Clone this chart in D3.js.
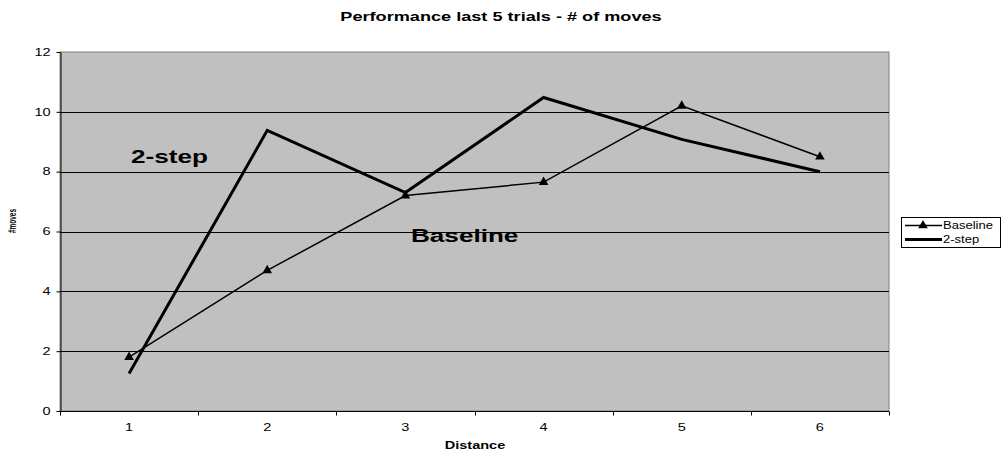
<!DOCTYPE html>
<html>
<head>
<meta charset="utf-8">
<script src="https://cdn.jsdelivr.net/npm/d3@7"></script>
<style>
  html, body { margin: 0; padding: 0; background: #fff; }
  svg { display: block; font-family: "Liberation Sans", Arial, sans-serif; }
</style>
</head>
<body>
<svg id="chart" width="1005" height="454"></svg>
<script>
// Distance categories and the mean number of moves per series
const distances = [1, 2, 3, 4, 5, 6];
const baseline = [1.8, 4.7, 7.2, 7.65, 10.2, 8.5];
const twoStep = [1.25, 9.38, 7.3, 10.48, 9.08, 8.0];
const yTicks = [0, 2, 4, 6, 8, 10, 12];
const seriesNames = ["Baseline", "2-step"];

// Text in this chart is drawn wide: glyphs are stretched horizontally.
const STRETCH = 1.45;
function widen(sel, factor) {
  sel.each(function () {
    const w = this.getComputedTextLength();
    d3.select(this).attr("textLength", w * (factor || STRETCH)).attr("lengthAdjust", "spacingAndGlyphs");
  });
  return sel;
}

const svg = d3.select("#chart");
const plot = { left: 60, right: 889, top: 52, bottom: 411 };

const x = d3.scaleBand().domain(distances).range([plot.left, plot.right]);
const y = d3.scaleLinear().domain([0, 12]).range([plot.bottom, plot.top]);
const cx = d => x(d) + x.bandwidth() / 2;

// Plot area
svg.append("rect")
  .attr("x", plot.left).attr("y", plot.top)
  .attr("width", plot.right - plot.left).attr("height", plot.bottom - plot.top)
  .attr("fill", "#c0c0c0").attr("stroke", "#808080").attr("stroke-width", 1);

// Horizontal gridlines
svg.append("g").selectAll("line").data(yTicks.filter(t => t > 0 && t < 12)).join("line")
  .attr("x1", plot.left).attr("x2", plot.right)
  .attr("y1", d => Math.round(y(d)) + 0.5).attr("y2", d => Math.round(y(d)) + 0.5)
  .attr("stroke", "#000").attr("stroke-width", 1);

// Y axis
const yAxis = svg.append("g")
  .attr("transform", `translate(${plot.left + 0.5},0)`)
  .call(d3.axisLeft(y).tickValues(yTicks).tickSize(4).tickPadding(6).tickSizeOuter(0));
yAxis.select(".domain").attr("stroke", "#000");
widen(yAxis.selectAll("text").attr("font-size", 10).attr("font-family", "Liberation Sans, Arial, sans-serif").attr("fill", "#000"));

// X axis with ticks between categories
const xAxisG = svg.append("g").attr("transform", `translate(0,${plot.bottom + 0.5})`);
xAxisG.append("line").attr("x1", plot.left).attr("x2", plot.right).attr("stroke", "#000");
const boundaries = distances.map(d => x(d)).concat([plot.right]);
xAxisG.selectAll("line.tick").data(boundaries).join("line").attr("class", "tick")
  .attr("x1", d => Math.round(d) + 0.5).attr("x2", d => Math.round(d) + 0.5)
  .attr("y1", 0).attr("y2", 4).attr("stroke", "#000");
widen(xAxisG.selectAll("text").data(distances).join("text")
  .attr("x", d => cx(d)).attr("y", 19)
  .attr("text-anchor", "middle").attr("font-size", 10).text(d => d));

// Axis titles
widen(svg.append("text").attr("x", 475).attr("y", 449).attr("text-anchor", "middle")
  .attr("font-size", 10).attr("font-weight", "bold").text("Distance"));
svg.append("text").attr("transform", "translate(16,221) rotate(-90)")
  .attr("text-anchor", "middle").attr("font-size", 10.5).attr("font-weight", "bold")
  .attr("textLength", 24).attr("lengthAdjust", "spacingAndGlyphs").text("#moves");

// Title
widen(svg.append("text").attr("x", 501).attr("y", 21).attr("text-anchor", "middle")
  .attr("font-size", 12.5).attr("font-weight", "bold").text("Performance last 5 trials - # of moves"));

// Series lines
const line = d3.line().x((d, i) => cx(distances[i])).y(d => y(d));
svg.append("path").datum(baseline).attr("d", line)
  .attr("fill", "none").attr("stroke", "#000").attr("stroke-width", 1.5).attr("stroke-linejoin", "miter");
svg.append("path").datum(twoStep).attr("d", line)
  .attr("fill", "none").attr("stroke", "#000").attr("stroke-width", 3).attr("stroke-linejoin", "miter");

// Triangle markers on the baseline series
const tri = d3.symbol().type(d3.symbolTriangle).size(40);
svg.append("g").selectAll("path").data(baseline).join("path")
  .attr("d", tri)
  .attr("transform", (d, i) => `translate(${cx(distances[i])},${y(d)})`)
  .attr("fill", "#000");

// In-plot series labels
widen(svg.append("text").attr("x", 131).attr("y", 163).attr("font-size", 18).attr("font-weight", "bold").text("2-step"));
widen(svg.append("text").attr("x", 411).attr("y", 242).attr("font-size", 18).attr("font-weight", "bold").text("Baseline"));

// Legend
const lg = svg.append("g");
lg.append("rect").attr("x", 901.5).attr("y", 217.5).attr("width", 99).attr("height", 30)
  .attr("fill", "#fff").attr("stroke", "#000").attr("stroke-width", 1);
const legendRows = [{ name: seriesNames[0], w: 1.5, marker: true, y: 225.5 },
                    { name: seriesNames[1], w: 3, marker: false, y: 239.5 }];
legendRows.forEach(r => {
  lg.append("line").attr("x1", 905).attr("x2", 942).attr("y1", r.y).attr("y2", r.y)
    .attr("stroke", "#000").attr("stroke-width", r.w);
  if (r.marker) lg.append("path").attr("d", tri).attr("transform", `translate(923,${r.y})`).attr("fill", "#000");
  widen(lg.append("text").attr("x", 943).attr("y", r.y + 3.5).attr("font-size", 10).text(r.name), 1.3);
});
</script>
</body>
</html>
